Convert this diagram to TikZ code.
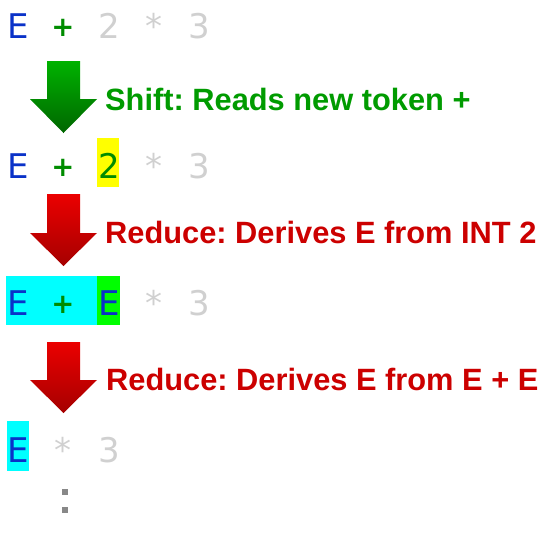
\documentclass[tikz,border=0pt]{standalone}
\usepackage{fontspec}
\setmainfont{Liberation Sans}
\newfontfamily\tokfont{DejaVu Sans}
\frenchspacing
\definecolor{tokblue}{RGB}{10,50,200}
\definecolor{tokgreen}{RGB}{0,140,0}
\definecolor{tokgray}{RGB}{208,208,208}
\definecolor{labgreen}{RGB}{0,155,0}
\definecolor{labred}{RGB}{204,0,0}
\definecolor{hlyellow}{RGB}{255,255,0}
\definecolor{hlcyan}{RGB}{0,255,255}
\definecolor{hlgreen}{RGB}{0,255,0}
\definecolor{dotgray}{RGB}{136,136,136}
\begin{document}
\begin{tikzpicture}[x=1pt,y=-1pt,
  tok/.style={anchor=base, inner sep=0pt, font=\tokfont\fontsize{34}{34}\selectfont},
  plus/.style={anchor=base, inner sep=0pt, font=\tokfont\bfseries\fontsize{27.5}{27.5}\selectfont, yshift=2pt},
  lab/.style={anchor=base west, inner sep=0pt, font=\bfseries\fontsize{30.8}{32}\selectfont\frenchspacing},
  garrow/.style={top color=green!70!black, bottom color=green!40!black},
  rarrow/.style={top color={rgb,255:red,235;green,0;blue,0}, bottom color={rgb,255:red,165;green,0;blue,0}}]
\useasboundingbox (0,0) rectangle (551,558);
% highlight boxes
\fill[hlyellow] (97,138) rectangle (119,187);
\fill[hlcyan] (6,276) rectangle (97,325);
\fill[hlgreen] (97,276) rectangle (120,325);
\fill[hlcyan] (7,421) rectangle (29,471);
% row 1
\node[tok,text=tokblue] (r1e) at (18,38) {E};
\node[plus,text=tokgreen] (r1p) at (63,38) {+};
\node[tok,text=tokgray] (r1n) at (109,38) {2};
\node[tok,text=tokgray] (r1s) at (154,38) {*};
\node[tok,text=tokgray] (r1t) at (199,38) {3};
% row 2
\node[tok,text=tokblue] (r2e) at (18,178) {E};
\node[plus,text=tokgreen] (r2p) at (63,178) {+};
\node[tok,text=tokgreen] (r2n) at (109,178) {2};
\node[tok,text=tokgray] (r2s) at (154,178) {*};
\node[tok,text=tokgray] (r2t) at (199,178) {3};
% row 3
\node[tok,text=tokblue] (r3e) at (18,315) {E};
\node[plus,text=tokgreen] (r3p) at (63,315) {+};
\node[tok,text=tokblue] (r3n) at (109,315) {E};
\node[tok,text=tokgray] (r3s) at (154,315) {*};
\node[tok,text=tokgray] (r3t) at (199,315) {3};
% row 4
\node[tok,text=tokblue] (r4e) at (18,462) {E};
\node[tok,text=tokgray] (r4s) at (63,462) {*};
\node[tok,text=tokgray] (r4t) at (109,462) {3};
% continuation dots
\fill[dotgray] (62,489) rectangle (68,495);
\fill[dotgray] (62,507) rectangle (68,513);
% arrows
\shade[garrow] (47,61) -- (80,61) -- (80,99) -- (97,99) -- (63.5,133) -- (30,99) -- (47,99) -- cycle;
\shade[rarrow] (47,194) -- (80,194) -- (80,233) -- (97,233) -- (63.5,266) -- (30,233) -- (47,233) -- cycle;
\shade[rarrow] (47,342) -- (80,342) -- (80,380) -- (97,380) -- (63.5,413) -- (30,380) -- (47,380) -- cycle;
% labels
\node[lab,text=labgreen] (l1) at (105,110) {Shift: Reads new token +};
\node[lab,text=labred] (l2) at (105,243) {Reduce: Derives E from INT 2};
\node[lab,text=labred] (l3) at (106,390) {Reduce: Derives E from E + E};
\end{tikzpicture}
\end{document}
